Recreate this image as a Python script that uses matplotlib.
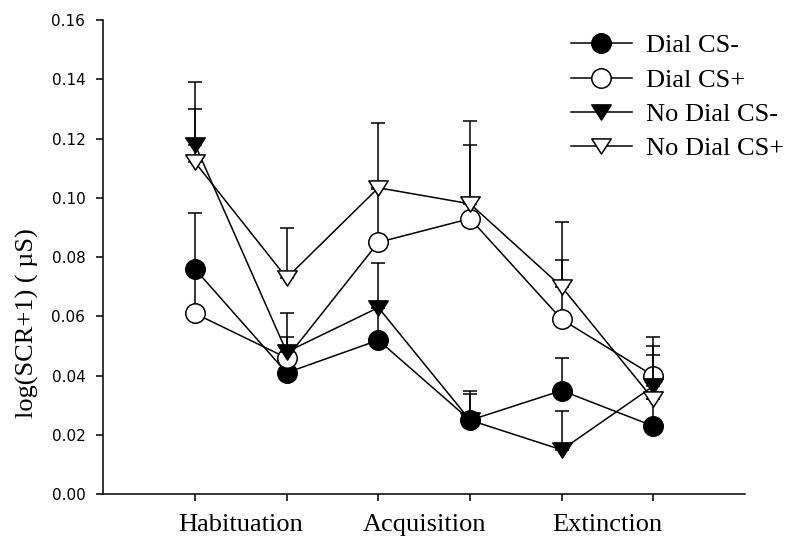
import numpy as np
import matplotlib
matplotlib.use('Agg')
import matplotlib.pyplot as plt
from matplotlib.path import Path

# data
x = [1, 2, 3, 4, 5, 6]
phases = ['Habituation', 'Acquisition', 'Extinction']
phase_pos = [1.5, 3.5, 5.5]

dial_minus = [0.076, 0.041, 0.052, 0.025, 0.035, 0.023]
dial_minus_err = [0.019, 0.005, 0.011, 0.010, 0.011, 0.009]

dial_plus = [0.061, 0.046, 0.085, 0.093, 0.059, 0.040]
dial_plus_err = [0.015, 0.007, 0.018, 0.025, 0.020, 0.013]

nodial_minus = [0.118, 0.048, 0.063, 0.025, 0.015, 0.0365]
nodial_minus_err = [0.021, 0.013, 0.015, 0.009, 0.013, 0.0135]

nodial_plus = [0.112, 0.073, 0.1034, 0.098, 0.070, 0.032]
nodial_plus_err = [0.018, 0.017, 0.022, 0.028, 0.022, 0.015]

labels = ['Dial CS-', 'Dial CS+', 'No Dial CS-', 'No Dial CS+']

# flattened down-pointing triangle
tri = Path([(-1, 0.78), (1, 0.78), (0, -0.78), (-1, 0.78)],
           [Path.MOVETO, Path.LINETO, Path.LINETO, Path.CLOSEPOLY])

series = [
    (dial_minus, dial_minus_err, 'o', 'black'),
    (dial_plus, dial_plus_err, 'o', 'white'),
    (nodial_minus, nodial_minus_err, tri, 'black'),
    (nodial_plus, nodial_plus_err, tri, 'white'),
]

fig = plt.figure(figsize=(7.87, 5.39), dpi=100)
ax = fig.add_axes([0.1313, 0.0829, 0.8154, 0.880])

z = 2
for (vals, err, mk, fc), lab in zip(series, labels):
    ax.errorbar(x, vals, yerr=[np.zeros(len(err)), err], fmt='none',
                ecolor='black', elinewidth=1.1, capsize=5, capthick=1.1,
                zorder=z)
    ax.plot(x, vals, color='black', lw=1.1, marker=mk, markersize=14,
            markerfacecolor=fc, markeredgecolor='black', markeredgewidth=1.1,
            label=lab, zorder=z + 0.5)
    z += 1

ax.set_xlim(0, 7)
ax.set_ylim(0, 0.16)
ax.set_yticks(np.arange(0, 0.161, 0.02))
ax.set_yticklabels(['%.2f' % v for v in np.arange(0, 0.161, 0.02)],
                   fontsize=11, family='DejaVu Sans')
ax.set_xticks(x)
ax.set_xticklabels([])
ax.set_xticks(phase_pos, minor=True)
ax.set_xticklabels(phases, minor=True, fontsize=19, family='Liberation Serif')
ax.tick_params(axis='x', which='minor', length=0, pad=14)
ax.tick_params(axis='both', which='major', direction='out', length=5,
               width=1.1)
ax.tick_params(axis='y', pad=8)

for s in ['top', 'right']:
    ax.spines[s].set_visible(False)
for s in ['left', 'bottom']:
    ax.spines[s].set_linewidth(1.1)

fig.text(27 / 787, 1 - 323 / 539, 'log(SCR+1) ( \u00b5S)', rotation=90,
         ha='center', va='center', fontsize=19, family='Liberation Serif')

leg = ax.legend(loc='upper left', bbox_to_anchor=(571 / 787, 1 - 34 / 539),
                bbox_transform=fig.transFigure, frameon=False,
                prop={'family': 'Liberation Serif', 'size': 19},
                handlelength=2.3, handletextpad=0.55, labelspacing=0.41,
                borderpad=0, borderaxespad=0)

fig.savefig('out.png', dpi=100)
